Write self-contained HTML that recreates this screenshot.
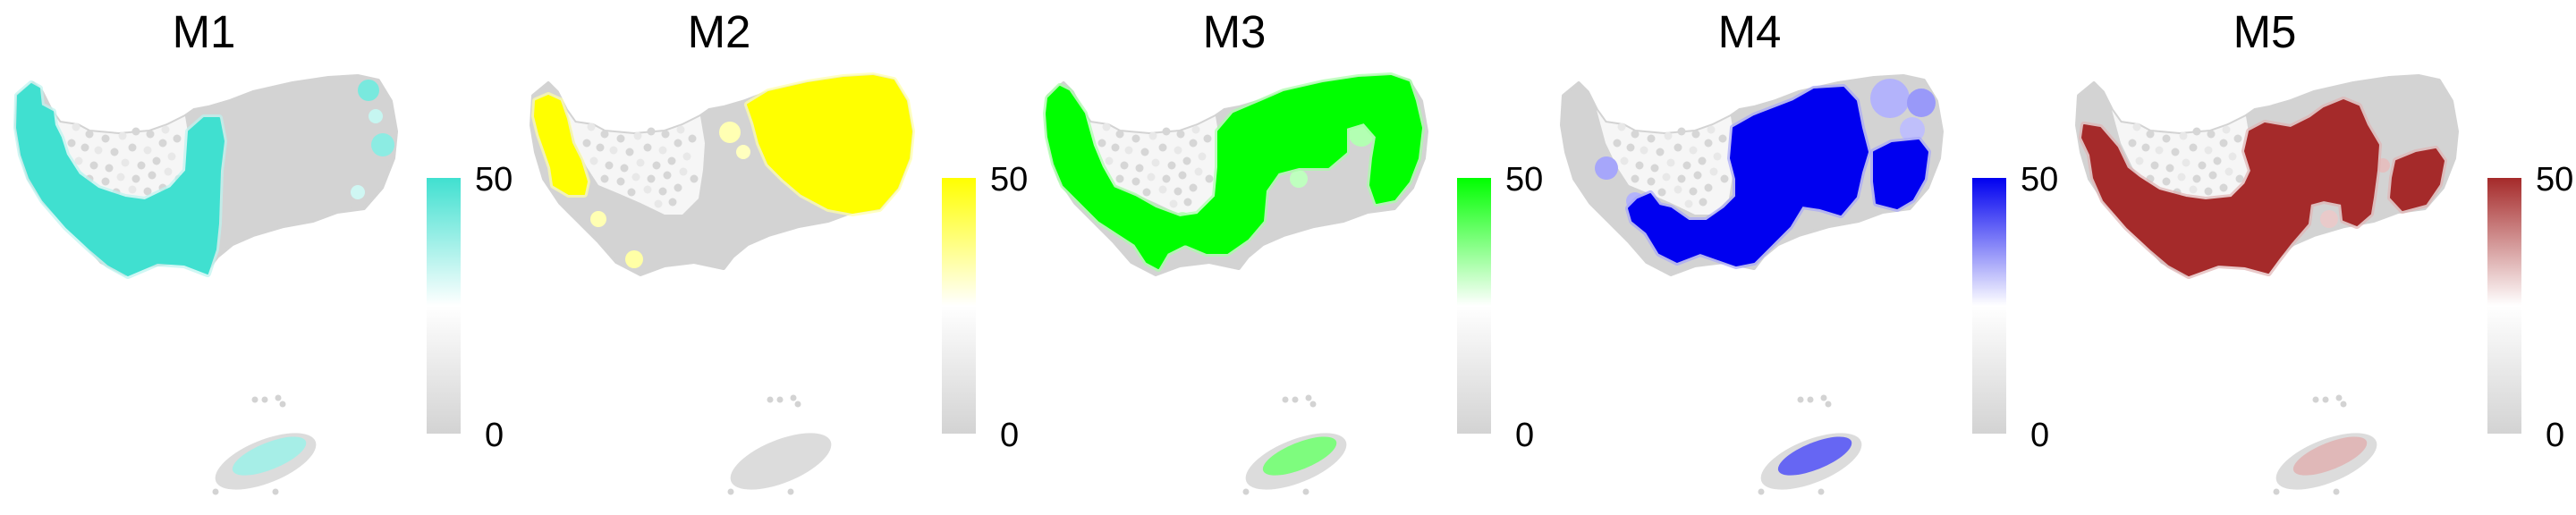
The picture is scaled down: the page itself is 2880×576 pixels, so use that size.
<!DOCTYPE html>
<html><head><meta charset="utf-8"><style>
html,body{margin:0;padding:0;background:#fff;}
svg{display:block;}
text{font-family:"Liberation Sans",Arial,sans-serif;fill:#000;}
</style></head>
<body>
<svg id="chart" width="2880" height="576" viewBox="0 0 2880 576" xmlns="http://www.w3.org/2000/svg"></svg>
<script>
// ---- data ----
const modules = ["M1","M2","M3","M4","M5"];
const highColors = ["#40E0D0","#FFFF00","#00FF00","#0000F0","#A52A2A"];
const scaleMin = [0,0,0,0,0];
const scaleMax = [50,50,50,50,50];
const tickValues = [0,50];
const tickLabels = ["0","50"];

// ---- geometry (panel-local) ----
const base = [[20,107],[18,140],[23,170],[32,200],[50,227],[70,247],[93,270],[113,293],[140,307],[167,297],[200,293],[233,300],[243,287],[260,273],[283,263],[317,253],[350,247],[377,237],[407,233],[427,210],[440,177],[443,147],[437,113],[423,90],[400,85],[367,87],[327,93],[283,103],[257,113],[233,120],[217,123],[207,130],[187,140],[167,147],[133,150],[100,147],[87,140],[67,137],[57,123],[47,103],[37,93]];
const notch = [[57,123],[67,137],[87,140],[100,147],[133,150],[167,147],[187,140],[207,130],[212,160],[210,190],[205,222],[187,240],[167,240],[140,227],[117,217],[93,207],[80,187],[67,160]];
const notchDots = [[85,142],[100,150],[118,155],[137,152],[152,147],[168,150],[185,145],[80,160],[95,165],[110,168],[128,170],[148,165],[165,168],[182,160],[198,155],[88,180],[105,185],[122,188],[140,182],[158,185],[175,180],[192,175],[100,200],[118,203],[135,198],[152,200],[170,196],[188,192],[200,200],[130,215],[148,212],[165,214],[182,210],[160,228],[176,226]];
const shapes = [
 {main:[[[20,107],[35,94],[44,99],[46,118],[59,125],[61,140],[68,154],[74,173],[88,195],[110,211],[140,221],[162,224],[191,210],[208,191],[211,147],[228,132],[245,132],[250,158],[246,191],[244,250],[241,279],[232,306],[206,296],[176,294],[143,308],[121,296],[101,279],[74,254],[48,224],[33,199],[24,173],[19,143]]],
  light:[[412,101,12,0.7],[428,162,13,0.6],[420,130,8,0.3],[400,215,8,0.25],[85,200,10,0.25]], clusterLevel:0.5},
 {main:[[[260,117],[283,103],[327,93],[367,87],[400,85],[423,90],[437,113],[443,147],[440,177],[427,210],[407,233],[377,238],[350,233],[320,217],[300,200],[283,183],[273,160],[267,137]],
        [[23,113],[37,107],[50,113],[57,133],[63,160],[73,180],[80,203],[77,217],[60,217],[43,207],[40,187],[33,167],[27,150],[22,130]]],
  light:[[133,290,10,0.35],[93,245,9,0.3],[240,148,12,0.3],[255,170,8,0.25]], clusterLevel:0.0},
 {main:[[[20,110],[33,97],[43,102],[60,127],[70,163],[80,187],[93,210],[117,220],[140,233],[167,243],[187,240],[207,220],[210,187],[210,147],[227,127],[260,113],[283,103],[327,93],[367,87],[403,85],[423,92],[430,113],[437,143],[433,177],[423,203],[407,223],[387,227],[380,207],[383,177],[387,153],[373,137],[353,143],[353,170],[333,187],[300,187],[277,193],[263,213],[260,247],[243,267],[220,283],[197,283],[173,273],[153,283],[143,300],[130,293],[117,273],[97,260],[77,247],[57,227],[37,207],[27,183],[20,153],[18,127]]],
  light:[[370,150,14,0.3],[300,200,10,0.25],[170,245,8,0.25]], clusterLevel:0.55},
 {main:[[[210,143],[233,130],[277,113],[300,100],[333,98],[347,113],[353,143],[360,170],[353,193],[347,220],[330,240],[307,233],[287,230],[273,253],[253,273],[233,293],[213,297],[193,290],[173,283],[147,293],[127,283],[113,260],[97,247],[93,233],[103,223],[117,217],[127,230],[140,233],[160,247],[180,247],[200,233],[213,220],[213,200],[207,177]],
        [[367,170],[387,160],[417,157],[427,170],[423,200],[410,223],[393,233],[370,227],[367,203]]],
  light:[[385,110,22,0.3],[420,115,16,0.4],[410,145,14,0.25],[68,188,13,0.35],[100,225,10,0.3]], clusterLevel:0.65},
 {main:[[[26,140],[44,143],[63,165],[74,188],[88,199],[110,213],[140,221],[162,224],[191,221],[206,206],[213,191],[206,169],[211,147],[228,138],[257,143],[279,132],[294,121],[316,112],[333,119],[342,140],[355,162],[353,191],[349,221],[346,239],[331,252],[316,246],[314,228],[294,224],[279,228],[276,250],[257,272],[243,290],[232,305],[206,298],[176,296],[143,308],[121,296],[101,279],[74,254],[48,224],[37,199],[33,173],[24,154]],
        [[375,180],[397,171],[419,167],[428,180],[423,206],[408,228],[382,235],[369,221],[371,199]]],
  light:[[300,245,10,0.25],[360,185,8,0.3]], clusterLevel:0.35}
];

const NS="http://www.w3.org/2000/svg";
const svg=document.getElementById('chart');
const panelW=576;
const barTop=199, barBottom=485, barX=477, barW=38;
function yScale(v,i){return barBottom-(v-scaleMin[i])/(scaleMax[i]-scaleMin[i])*(barBottom-barTop);}
function mix(c,t){
  const r=parseInt(c.substr(1,2),16),g=parseInt(c.substr(3,2),16),b=parseInt(c.substr(5,2),16);
  const f=x=>Math.round(255+(x-255)*t);
  return `rgb(${f(r)},${f(g)},${f(b)})`;
}
function el(tag,attrs,parent){const e=document.createElementNS(NS,tag);for(const k in attrs)e.setAttribute(k,attrs[k]);parent.appendChild(e);return e;}
const pts=p=>p.map(q=>q.join(',')).join(' ');
const defs=el('defs',{},svg);

modules.forEach((m,i)=>{
  const g=el('g',{transform:`translate(${i*panelW},0)`},svg);
  
  
  const c=highColors[i];
  const t=el('text',{x:228,y:53,'font-size':51,'text-anchor':'middle'},g);
  t.textContent=m;
  
  
  const b=el('polygon',{points:pts(base),fill:'#d3d3d3',stroke:'#d3d3d3','stroke-width':4,'stroke-linejoin':'round'},g);
  
  
  const n=el('polygon',{points:pts(notch),fill:'#f6f6f6'},g);
  
  
  notchDots.forEach((d,k)=>{
    const dd=el('circle',{cx:d[0],cy:d[1],r:4.5,fill:k%3==0?'#e8e8e8':'#d6d6d6'},g);
    
    
  });
  const cg=el('g',{transform:'translate(297,516) rotate(-22)'},g);
  const ce=el('ellipse',{cx:0,cy:0,rx:60,ry:24,fill:'#dcdcdc'},cg);
  
  
  const lv=shapes[i].clusterLevel;
  if(lv>0){
    const ci=el('ellipse',{cx:6,cy:-4,rx:44,ry:15,fill:mix(c,lv),opacity:0.9},cg);
    
    
  }
  [[285,447],[296,447],[311,445],[316,452],[308,550],[241,550]].forEach(d=>{
    const dd=el('circle',{cx:d[0],cy:d[1],r:3.5,fill:'#d3d3d3'},g);
    
    
  });
  shapes[i].light.forEach(s=>{
    const sp=el('circle',{cx:s[0],cy:s[1],r:s[2],fill:mix(c,s[3])},g);
    
    
  });
  shapes[i].main.forEach(p=>{
    const h=el('polygon',{points:pts(p),fill:'none',stroke:mix(c,0.35),'stroke-width':8,'stroke-linejoin':'round',opacity:0.7},g);
    
    
    const r=el('polygon',{points:pts(p),fill:c,stroke:c,'stroke-width':2,'stroke-linejoin':'round'},g);
    
    
  });
  const gid='grad'+i;
  const lg=el('linearGradient',{id:gid,x1:0,y1:0,x2:0,y2:1},defs);
  el('stop',{offset:'0%','stop-color':c},lg);
  el('stop',{offset:'50%','stop-color':'#ffffff'},lg);
  el('stop',{offset:'100%','stop-color':'#d3d3d3'},lg);
  const bar=el('rect',{x:barX,y:yScale(scaleMax[i],i),width:barW,height:yScale(scaleMin[i],i)-yScale(scaleMax[i],i),fill:`url(#${gid})`},g);
  
  
  tickValues.forEach((v,k)=>{
    const tx=el('text',{x:tickLabels[k].length>1?531:542,y:yScale(v,i)+14,'font-size':38},g);
    tx.textContent=tickLabels[k];
    
    
  });
});
</script>
</body></html>
